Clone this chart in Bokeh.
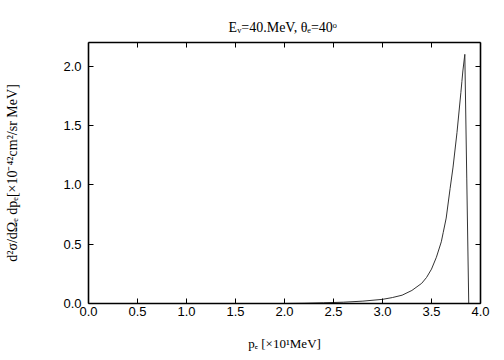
from bokeh.plotting import figure
from bokeh.models import LinearAxis, Range1d, FixedTicker, NumeralTickFormatter
from bokeh.embed import file_html
from bokeh.resources import INLINE

# data
p_e = [0.0, 1.0, 2.0, 2.2, 2.4, 2.6, 2.8, 3.0, 3.1, 3.2, 3.3, 3.4, 3.45, 3.5,
       3.55, 3.6, 3.62, 3.65, 3.69, 3.72, 3.76, 3.8, 3.81, 3.82, 3.84, 3.86, 3.88, 4.0]
xsec = [0.0, 0.0, 0.0, 0.002, 0.006, 0.011, 0.02, 0.035, 0.05, 0.07, 0.11, 0.17,
        0.22, 0.29, 0.39, 0.52, 0.60, 0.72, 0.97, 1.15, 1.44, 1.78, 1.87, 1.96,
        2.10, 1.05, 0.0, 0.0]
x_ticks = [0.0, 0.5, 1.0, 1.5, 2.0, 2.5, 3.0, 3.5, 4.0]
y_ticks = [0.0, 0.5, 1.0, 1.5, 2.0]
title_text = "Eᵥ=40.MeV,  θₑ=40ᵒ"
x_label = "pₑ [×10¹MeV]"
y_label = "d²σ/dΩₑ dpₑ[×10⁻⁴²cm²/sr MeV]"

X0, X1, Y0, Y1 = 0.0, 4.0, 0.0, 2.2
W, H = 504, 360

p = figure(width=W, height=H, output_backend="svg", toolbar_location=None,
           x_range=Range1d(X0, X1), y_range=Range1d(Y0, Y1),
           min_border_left=88, min_border_right=24,
           min_border_top=42, min_border_bottom=57)
p.xgrid.visible = False
p.ygrid.visible = False
p.outline_line_color = None
p.background_fill_color = "white"
p.border_fill_color = "white"

p.title.text = title_text
p.title.align = "center"
p.title.text_font = "Liberation Serif"
p.title.text_font_size = "14px"
p.title.text_font_style = "normal"
p.title.text_color = "black"
p.title.standoff = 16

p.line(p_e, xsec, line_color="#333333", line_width=1)

def style(ax, ticks, show_labels):
    ax.ticker = FixedTicker(ticks=ticks)
    ax.major_tick_in = 5
    ax.major_tick_out = 0
    ax.minor_tick_line_color = None
    ax.axis_line_width = 1.6
    ax.axis_line_color = "black"
    ax.major_tick_line_color = "black"
    ax.major_tick_line_width = 1
    ax.formatter = NumeralTickFormatter(format="0.0")
    ax.major_label_text_font = "Liberation Sans"
    ax.major_label_text_font_size = "13px" if show_labels else "0px"
    ax.major_label_text_color = "black" if show_labels else None
    ax.axis_label_text_font = "Liberation Serif"
    ax.axis_label_text_font_size = "13px"
    ax.axis_label_text_font_style = "normal"
    ax.axis_label_text_color = "black"

xa = p.xaxis[0]
ya = p.yaxis[0]
style(xa, x_ticks, True)
style(ya, y_ticks, True)
xa.major_label_standoff = 3
ya.major_label_standoff = 7
xa.axis_label = x_label
xa.axis_label_standoff = 17
ya.axis_label = y_label
ya.axis_label_standoff = 40
ya.axis_label_text_font_size = "14px"

top = LinearAxis()
right = LinearAxis()
style(top, x_ticks, False)
style(right, y_ticks, False)
p.add_layout(top, "above")
p.add_layout(right, "right")

open("out.html", "w").write(file_html(p, INLINE))
